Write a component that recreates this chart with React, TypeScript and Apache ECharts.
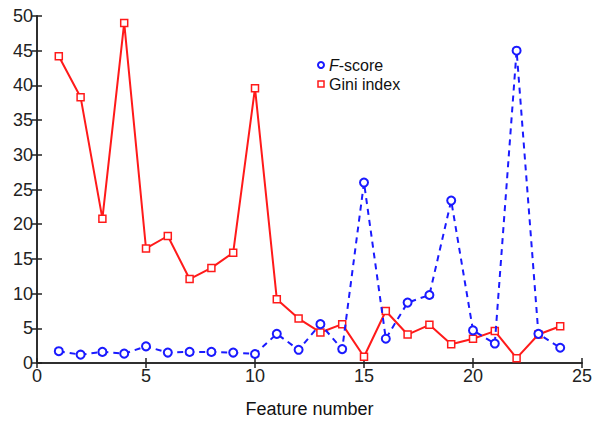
import React, { useEffect, useRef } from "react";
import * as echarts from "echarts";

const features = [1, 2, 3, 4, 5, 6, 7, 8, 9, 10, 11, 12, 13, 14, 15, 16, 17, 18, 19, 20, 21, 22, 23, 24];
const fScore = [1.7, 1.2, 1.6, 1.35, 2.4, 1.5, 1.6, 1.6, 1.5, 1.3, 4.2, 1.9, 5.6, 2.0, 26.0, 3.5, 8.7, 9.8, 23.4, 4.7, 2.8, 45.0, 4.2, 2.2];
const gini = [44.2, 38.3, 20.8, 49.0, 16.5, 18.3, 12.1, 13.7, 15.9, 39.6, 9.2, 6.4, 4.4, 5.6, 0.9, 7.5, 4.1, 5.5, 2.7, 3.5, 4.6, 0.7, 4.1, 5.3];
const xTitle = "Feature number";
const legendF = "-score";
const legendGini = "Gini index";

export default function App() {
  const ref = useRef<HTMLDivElement>(null);
  useEffect(() => {
    if (!ref.current) return;
    const chart = echarts.init(ref.current, undefined, { renderer: "svg" });
    const font = "Liberation Sans, Arial, sans-serif";
    const axisCommon = {
      type: "value" as const,
      axisLine: { show: true, lineStyle: { color: "#222", width: 1.5 } },
      axisTick: { show: true, inside: true, length: 5, lineStyle: { color: "#222", width: 1.5 } },
      splitLine: { show: false },
    };
    chart.setOption({
      animation: false,
      backgroundColor: "#fff",
      grid: { left: 37, right: 21, top: 16, bottom: 59 },
      xAxis: [
        {
          ...axisCommon,
          min: 0,
          max: 25,
          interval: 5,
          position: "bottom",
          axisLabel: { color: "#222", fontSize: 18, fontFamily: font, margin: 4 },
          name: xTitle,
          nameLocation: "middle",
          nameGap: 37,
          nameTextStyle: { color: "#111", fontSize: 18, fontFamily: font },
        },
        {
          ...axisCommon,
          min: 0,
          max: 25,
          interval: 5,
          position: "top",
          axisLabel: { show: false },
        },
      ],
      yAxis: [
        {
          ...axisCommon,
          min: 0,
          max: 50,
          interval: 5,
          position: "left",
          axisLabel: { color: "#222", fontSize: 18, fontFamily: font, margin: 4 },
        },
        {
          ...axisCommon,
          min: 0,
          max: 50,
          interval: 5,
          position: "right",
          axisLabel: { show: false },
        },
      ],
      series: [
        {
          name: "Gini index",
          type: "line",
          data: features.map((f, i) => [f, gini[i]]),
          symbol: "rect",
          symbolSize: 7,
          showAllSymbol: true,
          lineStyle: { color: "#ff1a1a", width: 2 },
          itemStyle: { color: "#fff", borderColor: "#ff1a1a", borderWidth: 1.5 },
          z: 2,
        },
        {
          name: "F-score",
          type: "line",
          data: features.map((f, i) => [f, fScore[i]]),
          symbol: "circle",
          symbolSize: 8,
          showAllSymbol: true,
          lineStyle: { color: "#1a1aff", width: 2, type: [6, 5] },
          itemStyle: { color: "#fff", borderColor: "#1a1aff", borderWidth: 2 },
          z: 3,
        },
      ],
      graphic: [
        { type: "circle", shape: { cx: 321, cy: 65, r: 3 }, style: { fill: "#fff", stroke: "#1a1aff", lineWidth: 2 } },
        { type: "rect", shape: { x: 318, y: 81, width: 6, height: 6 }, style: { fill: "#fff", stroke: "#ff1a1a", lineWidth: 1.5 } },
        {
          type: "text",
          x: 329,
          y: 65,
          style: {
            text: "{i|F}" + legendF,
            fill: "#111",
            font: "16px " + font,
            verticalAlign: "middle",
            rich: { i: { fontStyle: "italic", fontSize: 16, fontFamily: font, fill: "#111" } },
          },
        },
        {
          type: "text",
          x: 329,
          y: 84,
          style: { text: legendGini, fill: "#111", font: "16px " + font, verticalAlign: "middle" },
        },
      ],
    });
    return () => chart.dispose();
  }, []);
  return <div ref={ref} style={{ width: 603, height: 423, margin: -8 }} />;
}
